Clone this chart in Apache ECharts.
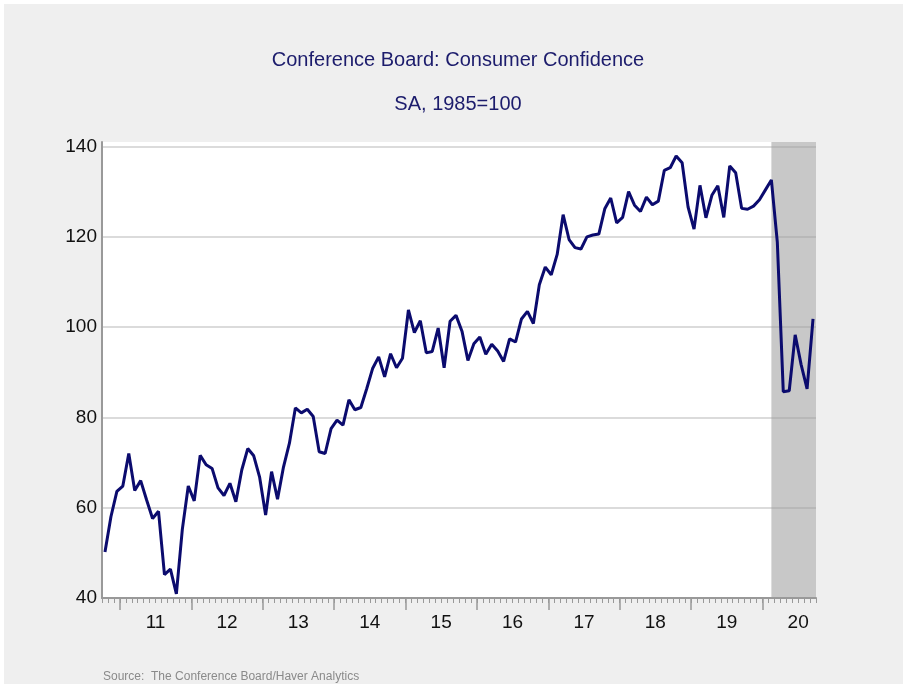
<!DOCTYPE html>
<html>
<head>
<meta charset="utf-8">
<title>Conference Board: Consumer Confidence</title>
<script src="https://cdn.jsdelivr.net/npm/echarts@6/dist/echarts.min.js"></script>
<style>
html, body { margin: 0; padding: 0; background: #fff; }
#main { position: absolute; left: 4px; top: 4px; width: 899px; height: 680px; background: #efefef; }
</style>
</head>
<body>
<div id="main"></div>
<script>
// monthly values, SA 1985=100 (series starts Oct 2010)
const startYear = 2010;
const startMonth = 10;
const v2010 = [50.2, 58.0, 63.6];
const v2011 = [64.8, 72.0, 63.8, 66.0, 61.7, 57.6, 59.2, 45.2, 46.4, 40.9, 55.2, 64.8];
const v2012 = [61.5, 71.6, 69.5, 68.7, 64.4, 62.7, 65.4, 61.3, 68.4, 73.1, 71.5, 66.7];
const v2013 = [58.4, 68.0, 61.9, 69.0, 74.3, 82.1, 81.0, 81.8, 80.2, 72.4, 72.0, 77.5];
const v2014 = [79.4, 78.3, 83.9, 81.7, 82.2, 86.4, 90.9, 93.4, 89.0, 94.1, 91.0, 93.1];
const v2015 = [103.8, 98.8, 101.4, 94.3, 94.6, 99.8, 91.0, 101.3, 102.6, 99.1, 92.6, 96.3];
const v2016 = [97.8, 94.0, 96.2, 94.7, 92.4, 97.4, 96.7, 101.8, 103.5, 100.8, 109.4, 113.3];
const v2017 = [111.6, 116.1, 124.9, 119.4, 117.6, 117.3, 120.0, 120.4, 120.6, 126.2, 128.6, 123.1];
const v2018 = [124.3, 130.0, 127.0, 125.6, 128.8, 127.1, 127.9, 134.7, 135.3, 137.9, 136.4, 126.6];
const v2019 = [121.7, 131.4, 124.2, 129.2, 131.3, 124.3, 135.7, 134.2, 126.3, 126.1, 126.8, 128.2];
const v2020 = [130.4, 132.6, 118.8, 85.7, 85.9, 98.3, 91.7, 86.3, 101.8];

const yearLabels = ['11', '12', '13', '14', '15', '16', '17', '18', '19', '20'];
const recessionStart = [2020, 2]; // Feb 2020

const values = [].concat(v2010, v2011, v2012, v2013, v2014, v2015, v2016, v2017, v2018, v2019, v2020);
const monthCount = 120; // axis runs Oct 2010 .. end of Sep 2020

function monthIndex(y, m) {
  return (y - startYear) * 12 + (m - startMonth);
}

// year boundaries and mid-year label positions
const yearTicks = yearLabels.map((s, i) => monthIndex(2011 + i, 1));
const labelPos = yearTicks.map(t => t + 6);

const chart = echarts.init(document.getElementById('main'));
chart.setOption({
  animation: false,
  title: [
    {
      text: 'Conference Board: Consumer Confidence',
      left: 449, top: 41, textAlign: 'center',
      textStyle: { color: '#1c1c6c', fontSize: 20, fontWeight: 'normal', fontFamily: 'Liberation Sans' }
    },
    {
      text: 'SA, 1985=100',
      left: 449, top: 85, textAlign: 'center',
      textStyle: { color: '#1c1c6c', fontSize: 20, fontWeight: 'normal', fontFamily: 'Liberation Sans' }
    }
  ],
  graphic: [
    {
      type: 'text', left: 99, top: 667,
      style: { text: 'Source:  The Conference Board/Haver Analytics', fill: '#8a8a8a', font: '12px Liberation Sans' }
    }
  ],
  grid: {
    left: 98, top: 138, right: 87, bottom: 86,
    show: true, backgroundColor: '#ffffff', borderWidth: 0
  },
  xAxis: [
    {
      type: 'value', min: 0, max: monthCount, position: 'bottom',
      axisLine: { lineStyle: { color: '#999999', width: 2 } },
      axisTick: { customValues: yearTicks, length: 12, lineStyle: { color: '#999999', width: 1.5 } },
      axisLabel: {
        customValues: labelPos, margin: 15, fontSize: 19, color: '#111111', fontFamily: 'Liberation Sans',
        formatter: v => yearLabels[(v - labelPos[0]) / 12]
      },
      splitLine: { show: false }
    },
    {
      type: 'value', min: 0, max: monthCount, interval: 1, position: 'bottom',
      axisLine: { show: false },
      axisTick: { length: 5, lineStyle: { color: '#999999', width: 1 } },
      axisLabel: { show: false },
      splitLine: { show: false }
    }
  ],
  yAxis: {
    type: 'value', min: 40, max: 141, interval: 20,
    axisLine: { show: true, lineStyle: { color: '#999999', width: 2 } },
    axisTick: { show: false },
    axisLabel: {
      margin: 5, fontSize: 19, color: '#111111', fontFamily: 'Liberation Sans',
      formatter: v => (v % 20 === 0 ? String(v) : '')
    },
    splitLine: { showMaxLine: false, showMinLine: false, lineStyle: { color: '#cfcfcf', width: 1.5 } }
  },
  series: [
    {
      type: 'line',
      name: 'Consumer Confidence',
      xAxisIndex: 0,
      data: values.map((v, i) => [i + 0.5, v]),
      showSymbol: false,
      lineStyle: { color: '#0b0b6e', width: 3 },
      markArea: {
        silent: true,
        itemStyle: { color: '#9a9a9a', opacity: 0.55 },
        data: [[{ xAxis: monthIndex(recessionStart[0], recessionStart[1]) + 0.5 }, { xAxis: monthCount }]]
      }
    }
  ]
});
</script>
</body>
</html>
